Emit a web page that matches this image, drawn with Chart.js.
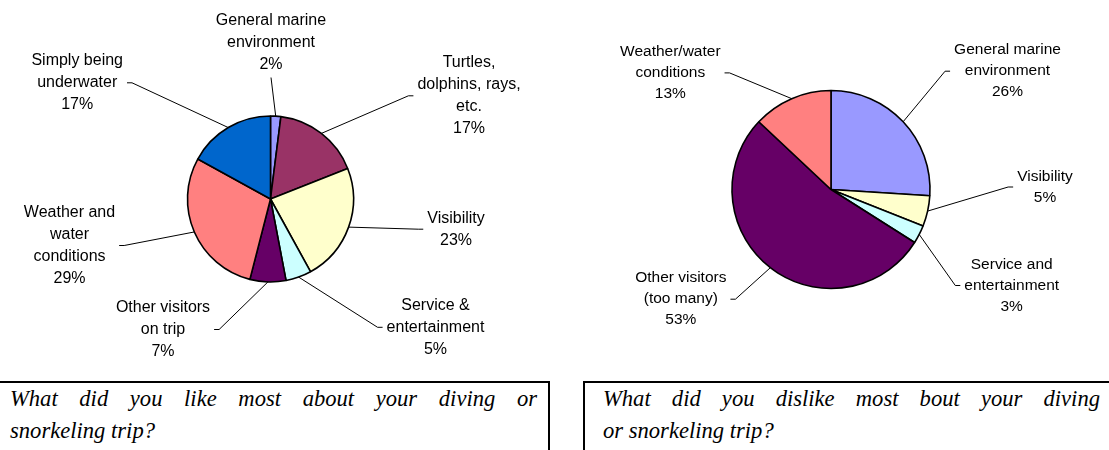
<!DOCTYPE html>
<html lang="en">
<head>
  <meta charset="UTF-8" />
  <title>Diving and snorkeling trip survey</title>
  <script src="https://cdn.jsdelivr.net/npm/chart.js"></script>
  <style>
    html, body {
      margin: 0;
      padding: 0;
      background: #fff;
      width: 1109px;
      height: 450px;
      overflow: hidden;
      position: relative;
    }
    canvas { position: absolute; top: 0; }
    #likeChart { left: 0; }
    #dislikeChart { left: 560px; }
    .caption {
      position: absolute;
      top: 381px;
      height: 120px;
      box-sizing: border-box;
      border-top: 2px solid #000;
      font-family: "Liberation Serif", "Times New Roman", serif;
      font-style: italic;
      font-size: 22.6px;
      line-height: 31.6px;
      color: #000;
    }
    .caption .l1 {
      display: block;
      text-align: justify;
      text-align-last: justify;
      white-space: nowrap;
    }
    .caption .l2 { display: block; }
    #likeCaption {
      left: -2px;
      width: 552px;
      border-left: 2px solid #000;
      border-right: 2px solid #000;
      padding: 0 11px 0 10px;
    }
    #dislikeCaption {
      left: 583px;
      width: 540px;
      border-left: 2px solid #000;
      padding: 0 0 0 18px;
    }
    #dislikeCaption .l1 { width: 497px; }
  </style>
</head>
<body>
  <canvas id="likeChart" width="560" height="380"></canvas>
  <canvas id="dislikeChart" width="549" height="380"></canvas>

  <div class="caption" id="likeCaption">
    <span class="l1">What did you like most about your diving or</span>
    <span class="l2">snorkeling trip?</span>
  </div>
  <div class="caption" id="dislikeCaption">
    <span class="l1">What did you dislike most bout your diving</span>
    <span class="l2">or snorkeling trip?</span>
  </div>

  <script>
    // Данные: что понравилось
    const likeCategories = [
      'General marine\nenvironment',
      'Turtles,\ndolphins, rays,\netc.',
      'Visibility',
      'Service &\nentertainment',
      'Other visitors\non trip',
      'Weather and\nwater\nconditions',
      'Simply being\nunderwater'
    ];
    const likeValues = [2, 17, 23, 5, 7, 29, 17];
    const likeColors = ['#9999FF', '#993366', '#FFFFCC', '#CCFFFF', '#660066', '#FF8080', '#0066CC'];

    // Данные: что не понравилось
    const dislikeCategories = [
      'General marine\nenvironment',
      'Visibility',
      'Service and\nentertainment',
      'Other visitors\n(too many)',
      'Weather/water\nconditions'
    ];
    const dislikeValues = [26, 5, 3, 53, 13];
    const dislikeColors = ['#9999FF', '#FFFFCC', '#CCFFFF', '#660066', '#FF8080'];

    // Размещение подписей относительно центра круга: [dx, dy, сторона выноски]
    const likePlaces = [
      [0.5, -156.5, 'bottom'],
      [198.5, -103.2, 'left'],
      [185.5, 30.2, 'left'],
      [165, 128.3, 'left'],
      [-107.5, 130.5, 'right'],
      [-201, 46.5, 'right'],
      [-193.3, -116.2, 'right']
    ];
    const dislikePlaces = [
      [176.5, -118.3, 'left'],
      [214, -2.5, 'left'],
      [180.7, 96, 'left'],
      [-150.2, 109.7, 'right'],
      [-160.7, -116.6, 'right']
    ];

    // Выноски с подписями и процентами
    const calloutPlugin = {
      id: 'callouts',
      afterDatasetsDraw(chart, args, opts) {
        const ctx = chart.ctx;
        const meta = chart.getDatasetMeta(0);
        const values = chart.data.datasets[0].data;
        ctx.save();
        ctx.font = opts.font;
        ctx.fillStyle = '#000';
        ctx.strokeStyle = '#000';
        ctx.lineWidth = 1;
        ctx.textAlign = 'center';
        ctx.textBaseline = 'middle';
        meta.data.forEach((arc, i) => {
          const p = arc.getProps(['x', 'y', 'startAngle', 'endAngle', 'outerRadius'], true);
          const mid = (p.startAngle + p.endAngle) / 2;
          const ex = p.x + Math.cos(mid) * p.outerRadius;
          const ey = p.y + Math.sin(mid) * p.outerRadius;
          const lines = chart.data.labels[i].split('\n').concat(values[i] + '%');
          const [dx, dy, side] = opts.places[i];
          const cx = p.x + dx, cy = p.y + dy;
          const lh = opts.lineHeight;
          const w = Math.max(...lines.map(l => ctx.measureText(l).width));
          const h = lines.length * lh;
          let ax = cx, ay = cy, tx = cx;
          if (side === 'left') { ax = cx - w / 2 - 4; tx = ax - 5; }
          else if (side === 'right') { ax = cx + w / 2 + 4; tx = ax + 5; }
          else { ay = cy + h / 2 + 2; tx = ax; }
          ctx.beginPath();
          ctx.moveTo(ex, ey);
          ctx.lineTo(tx, ay);
          ctx.lineTo(ax, ay);
          ctx.stroke();
          lines.forEach((l, k) => ctx.fillText(l, cx, cy - h / 2 + lh * (k + 0.5)));
        });
        ctx.restore();
      }
    };

    function makePie(id, labels, values, colors, radius, padding, places, font, lineHeight) {
      return new Chart(document.getElementById(id), {
        type: 'pie',
        data: {
          labels: labels,
          datasets: [{
            data: values,
            backgroundColor: colors,
            borderColor: '#000',
            borderWidth: 1.6
          }]
        },
        options: {
          responsive: false,
          animation: false,
          radius: radius,
          layout: { padding: padding },
          events: [],
          plugins: {
            legend: { display: false },
            tooltip: { enabled: false },
            callouts: { places: places, font: font, lineHeight: lineHeight }
          }
        },
        plugins: [calloutPlugin]
      });
    }

    makePie('likeChart', likeCategories, likeValues, likeColors, 83,
      { left: 170.5, right: 189.5, top: 99, bottom: 81 },
      likePlaces, '16px "Liberation Sans", Arial, sans-serif', 22);

    makePie('dislikeChart', dislikeCategories, dislikeValues, dislikeColors, 99,
      { left: 171, right: 178, top: 89.5, bottom: 90.5 },
      dislikePlaces, '15.5px "Liberation Sans", Arial, sans-serif', 21);
  </script>
</body>
</html>
